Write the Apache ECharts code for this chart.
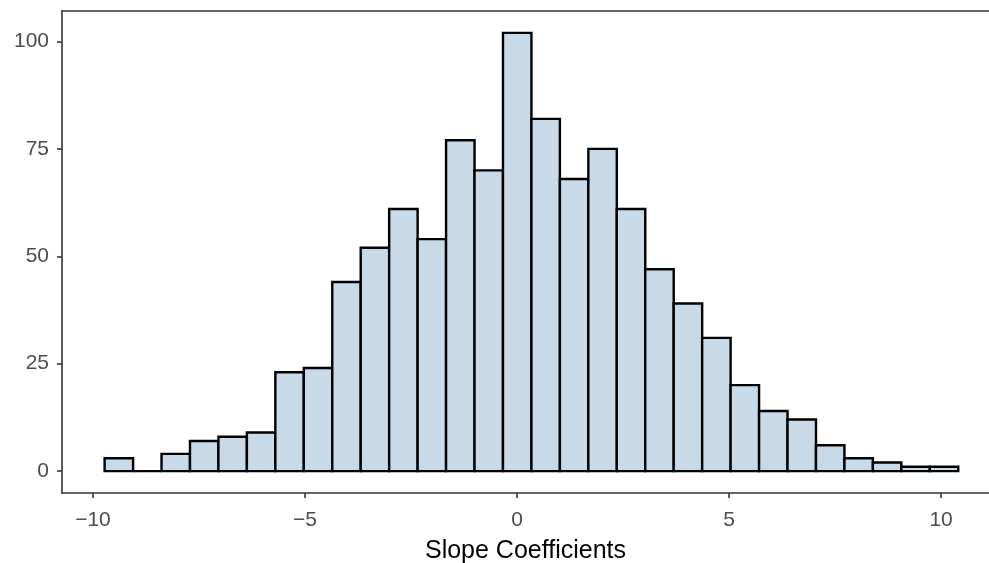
<!DOCTYPE html>
<html><head><meta charset="utf-8">
<script src="https://cdn.jsdelivr.net/npm/echarts@6/dist/echarts.min.js"></script>
<style>html,body{margin:0;padding:0;background:#fff}#c{width:989px;height:563px}</style>
</head><body><div id="c"></div>
<script>
// Histogram data
var binStart = -9.725;
var binWidth = 0.671;
var counts = [3,0,4,7,8,9,23,24,44,52,61,54,77,70,102,82,68,75,61,47,39,31,20,14,12,6,3,2,1,1];
var xTicks = [-10,-5,0,5,10];
var yTicks = [0,25,50,75,100];
var xTitle = 'Slope Coefficients';

var bins = counts.map(function(c,i){
  var s = binStart + i*binWidth;
  return [s, s+binWidth, c];
});

var font = 'Liberation Sans, Arial, sans-serif';
var axisCol = '#333333';
var chart = echarts.init(document.getElementById('c'), null, {renderer:'canvas'});
chart.setOption({
  animation:false,
  backgroundColor:'#fff',
  grid:{left:62, right:0, top:11, bottom:70, containLabel:false, outerBoundsMode:'none'},
  xAxis:[{
    type:'value', min:-10.73, max:11.13,
    splitLine:{show:false},
    axisLine:{show:true, onZero:false, lineStyle:{color:axisCol, width:1.6}},
    axisTick:{show:true, inside:false, length:5, lineStyle:{color:axisCol, width:1.6}, customValues:xTicks},
    axisLabel:{color:'#4D4D4D', fontSize:21, fontFamily:font, margin:17, customValues:xTicks,
      formatter:function(v){return String(v).replace('-', '\u2212');}},
    name:xTitle, nameLocation:'middle', nameGap:46,
    nameTextStyle:{color:'#000', fontSize:25, fontFamily:font}
  },{
    type:'value', position:'top', min:-10.73, max:11.13,
    splitLine:{show:false},
    axisLine:{show:true, onZero:false, lineStyle:{color:axisCol, width:1.6}},
    axisTick:{show:false}, axisLabel:{show:false}
  }],
  yAxis:{
    type:'value', min:-5.1, max:107.1,
    splitLine:{show:false},
    axisLine:{show:true, onZero:false, lineStyle:{color:axisCol, width:1.6}},
    axisTick:{show:true, inside:false, length:5, lineStyle:{color:axisCol, width:1.6}, customValues:yTicks},
    axisLabel:{color:'#4D4D4D', fontSize:21, fontFamily:font, margin:13, customValues:yTicks}
  },
  series:[{
    type:'custom',
    xAxisIndex:0,
    data:bins,
    encode:{x:[0,1], y:2},
    renderItem:function(params, api){
      var p0 = api.coord([api.value(0), 0]);
      var p1 = api.coord([api.value(1), api.value(2)]);
      return {
        type:'rect',
        shape:{x:p0[0], y:p1[1], width:p1[0]-p0[0], height:p0[1]-p1[1]},
        style:{fill:'#C8D9E7', stroke:'#000', lineWidth:2.4}
      };
    }
  }]
});
</script></body></html>
